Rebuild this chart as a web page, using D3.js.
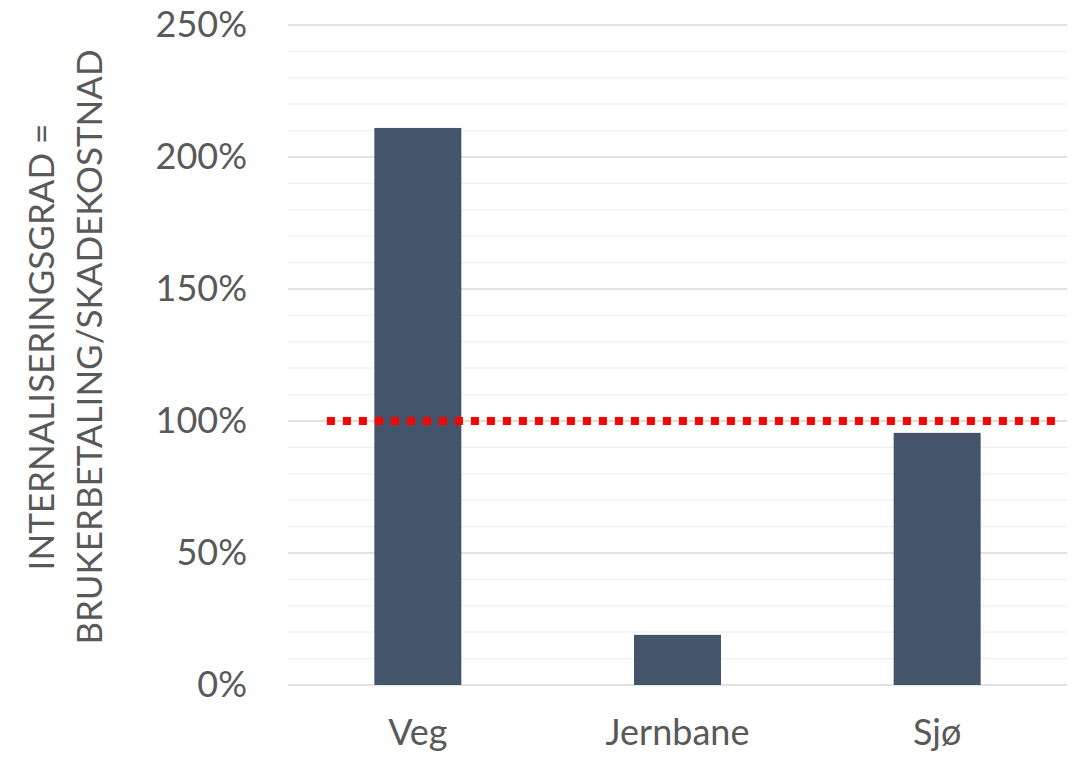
<!DOCTYPE html>
<html>
<head>
<meta charset="utf-8">
<script src="https://cdn.jsdelivr.net/npm/d3@7"></script>
<style>
  html, body { margin: 0; padding: 0; background: #fff; }
  svg { display: block; }
  text { font-family: Lato, "Open Sans", sans-serif; fill: #595959; }
</style>
</head>
<body>
<svg id="chart" width="1079" height="761"></svg>
<script>
// Internaliseringsgrad per transportform
const categories = ["Veg", "Jernbane", "Sjø"];
const values = [211, 19, 95.5];          // prosent
const referenceLevel = 100;              // full internalisering
const majorTicks = [0, 50, 100, 150, 200, 250];
const minorTicks = d3.range(0, 251, 10);
const titleLines = ["INTERNALISERINGSGRAD =", "BRUKERBETALING/SKADEKOSTNAD"];

const W = 1079, H = 761;
const margin = { top: 25, right: 12, bottom: 76, left: 288 };
const svg = d3.select("#chart");

const x = d3.scaleBand()
  .domain(categories)
  .range([margin.left, W - margin.right])
  .padding(0);

const y = d3.scaleLinear()
  .domain([0, 250])
  .range([H - margin.bottom, margin.top]);

const barWidth = x.bandwidth() * 0.335;

// minor gridlines
svg.append("g")
  .selectAll("line")
  .data(minorTicks.filter(t => t % 50 !== 0))
  .join("line")
  .attr("x1", margin.left).attr("x2", W - margin.right)
  .attr("y1", d => y(d)).attr("y2", d => y(d))
  .attr("stroke", "#f0f0f0").attr("stroke-width", 1.3);

// major gridlines
svg.append("g")
  .selectAll("line")
  .data(majorTicks)
  .join("line")
  .attr("x1", margin.left).attr("x2", W - margin.right)
  .attr("y1", d => y(d)).attr("y2", d => y(d))
  .attr("stroke", "#d9d9d9").attr("stroke-width", 1.3);

// y axis labels
const yAxis = d3.axisLeft(y)
  .tickValues(majorTicks)
  .tickFormat(d => d + "%")
  .tickSize(0)
  .tickPadding(41);
const gy = svg.append("g")
  .attr("transform", `translate(${margin.left},0)`)
  .call(yAxis);
gy.select(".domain").remove();
gy.selectAll("text")
  .attr("font-size", 36)
  .attr("fill", "#595959")
  .attr("font-family", "Lato, sans-serif");

// bars
svg.append("g")
  .selectAll("rect")
  .data(values)
  .join("rect")
  .attr("x", (d, i) => x(categories[i]) + (x.bandwidth() - barWidth) / 2)
  .attr("width", barWidth)
  .attr("y", d => y(d))
  .attr("height", d => y(0) - y(d))
  .attr("fill", "#44546a");

// x axis labels
const xAxis = d3.axisBottom(x).tickSize(0).tickPadding(34);
const gx = svg.append("g")
  .attr("transform", `translate(0,${y(0)})`)
  .call(xAxis);
gx.select(".domain").remove();
gx.selectAll("text")
  .attr("font-size", 36)
  .attr("fill", "#595959")
  .attr("font-family", "Lato, sans-serif");

// 100 % reference line
const plotW = W - margin.right - margin.left;
svg.append("line")
  .attr("x1", margin.left + plotW * 0.05)
  .attr("x2", margin.left + plotW * 0.986)
  .attr("y1", y(referenceLevel)).attr("y2", y(referenceLevel))
  .attr("stroke", "#ff0000")
  .attr("stroke-width", 8)
  .attr("stroke-dasharray", "8 8");

// y axis title (two lines, rotated)
const cy = (y(0) + y(250)) / 2 - 8;
const title = svg.append("text")
  .attr("transform", `translate(0,${cy}) rotate(-90)`)
  .attr("text-anchor", "middle")
  .attr("font-size", 35);
titleLines.forEach((t, i) => {
  title.append("tspan")
    .attr("x", 0)
    .attr("y", i === 0 ? 54 : 102)
    .text(t);
});
</script>
</body>
</html>
